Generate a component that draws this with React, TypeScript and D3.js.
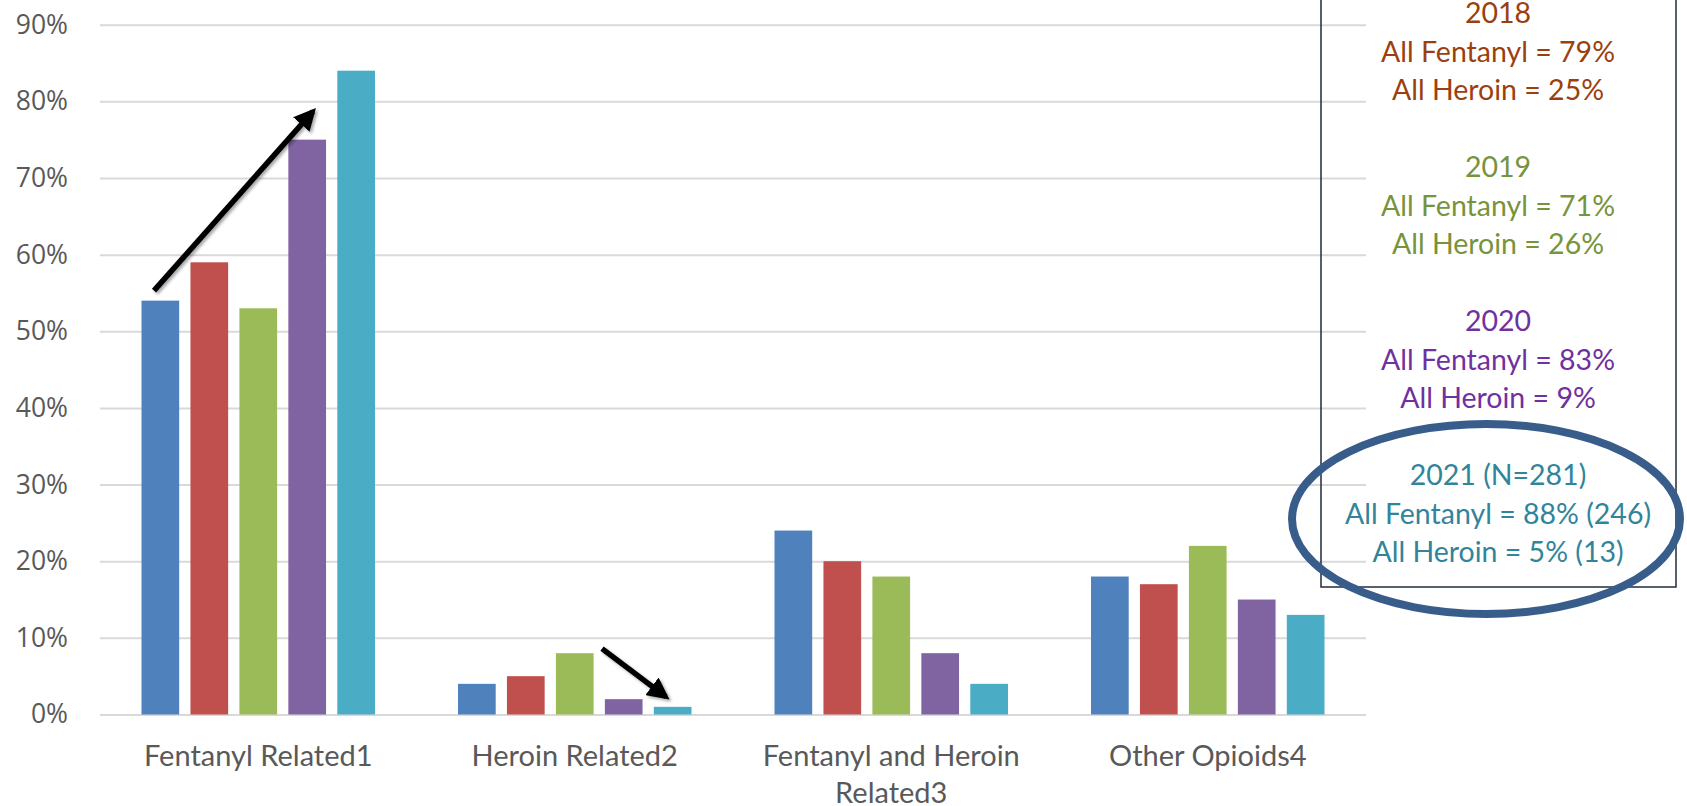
import React, { useRef, useEffect } from 'react';
import * as d3 from 'd3';

// chart data
const categories = ['Fentanyl Related1', 'Heroin Related2', 'Fentanyl and Heroin Related3', 'Other Opioids4'];
const seriesNames = ['s1', 's2', 's3', 's4', 's5'];
const seriesColors = ['#4F81BD', '#C0504D', '#9BBB59', '#8064A2', '#4BACC6'];
const values1 = [54, 4, 24, 18];
const values2 = [59, 5, 20, 17];
const values3 = [53, 8, 18, 22];
const values4 = [75, 2, 8, 15];
const values5 = [84, 1, 4, 13];
const seriesValues = [values1, values2, values3, values4, values5];
const yTicks = [0, 10, 20, 30, 40, 50, 60, 70, 80, 90];

// annotation box text
const noteColors = ['#9C3F0E', '#77933C', '#7030A0', '#31849B'];
const noteLines = [
  ['2018', 'All Fentanyl = 79%', 'All Heroin = 25%'],
  ['2019', 'All Fentanyl = 71%', 'All Heroin = 26%'],
  ['2020', 'All Fentanyl = 83%', 'All Heroin = 9%'],
  ['2021 (N=281)', 'All Fentanyl = 88% (246)', 'All Heroin = 5% (13)'],
];

const W = 1687;
const H = 806;

const App: React.FC = () => {
  const ref = useRef<SVGSVGElement | null>(null);

  useEffect(() => {
    if (!ref.current) return;
    const svg = d3.select(ref.current);
    svg.selectAll('*').remove();

    const margin = { left: 100, right: W - 1366, top: 24.7, bottom: H - 714.5 };
    const plotRight = W - margin.right;
    const plotBottom = H - margin.bottom;

    const x = d3.scaleBand<string>()
      .domain(categories)
      .range([margin.left, plotRight])
      .padding(0);

    const inner = d3.scaleBand<string>()
      .domain(seriesNames)
      .range([41.5, x.bandwidth() - 41.5])
      .paddingInner(0.23)
      .paddingOuter(0);

    const y = d3.scaleLinear()
      .domain([0, 90])
      .range([plotBottom, margin.top]);

    const textColor = '#595959';

    // drop shadow for the arrows
    const defs = svg.append('defs');
    const filter = defs.append('filter').attr('id', 'shadow')
      .attr('x', '-20%').attr('y', '-20%').attr('width', '140%').attr('height', '140%');
    filter.append('feDropShadow')
      .attr('dx', 2).attr('dy', 2).attr('stdDeviation', 1.5)
      .attr('flood-color', '#000').attr('flood-opacity', 0.35);
    defs.append('marker')
      .attr('id', 'arrowhead')
      .attr('viewBox', '0 0 10 10')
      .attr('refX', 8).attr('refY', 5)
      .attr('markerWidth', 4).attr('markerHeight', 4)
      .attr('orient', 'auto')
      .append('path')
      .attr('d', 'M0,0L10,5L0,10Z')
      .attr('fill', '#000');

    // gridlines + y labels
    const yAxis = svg.append('g')
      .attr('transform', `translate(${margin.left},0)`)
      .call(d3.axisLeft(y).tickValues(yTicks).tickFormat(d => `${d}%`).tickSize(-(plotRight - margin.left)).tickPadding(32));
    yAxis.select('.domain').remove();
    yAxis.selectAll('line')
      .attr('stroke', '#D9D9D9')
      .attr('stroke-width', 2);
    yAxis.selectAll('text')
      .attr('fill', textColor)
      .attr('font-family', '"Open Sans", "Noto Sans", sans-serif')
      .attr('font-size', 26.5);

    // bars
    const groups = svg.append('g')
      .selectAll('g')
      .data(categories)
      .join('g')
      .attr('transform', d => `translate(${x(d)},0)`);

    groups.selectAll('rect')
      .data((_, ci) => seriesValues.map((vals, si) => ({ key: seriesNames[si], value: vals[ci], color: seriesColors[si] })))
      .join('rect')
      .attr('x', d => inner(d.key)!)
      .attr('width', inner.bandwidth())
      .attr('y', d => y(d.value))
      .attr('height', d => plotBottom - y(d.value))
      .attr('fill', d => d.color);

    // category labels
    const xAxis = svg.append('g')
      .attr('transform', `translate(0,${plotBottom})`)
      .call(d3.axisBottom(x).tickSize(0).tickFormat(() => ''));
    xAxis.select('.domain').remove();
    xAxis.selectAll('.tick text').remove();
    xAxis.selectAll('.tick')
      .append('text')
      .attr('fill', textColor)
      .attr('font-family', 'Lato, "Open Sans", sans-serif')
      .attr('font-size', 29)
      .attr('text-anchor', 'middle')
      .each(function (d) {
        const label = d as string;
        const lines = label === 'Fentanyl and Heroin Related3' ? ['Fentanyl and Heroin', 'Related3'] : [label];
        const t = d3.select(this);
        lines.forEach((ln, i) => {
          t.append('tspan').attr('x', 0).attr('y', 51.5 + i * 37).text(ln);
        });
      });

    // arrows
    const arrowLine = d3.line();
    const arrowUp: [number, number][] = [[x(categories[0])! + 54, y(55.3)], [x(categories[0])! + 213, y(78.7)]];
    const arrowDown: [number, number][] = [[x(categories[1])! + 185.5, y(8.6)], [x(categories[1])! + 249.5, y(2.3)]];
    [arrowUp, arrowDown].forEach(pts => {
      svg.append('path')
        .attr('d', arrowLine(pts))
        .attr('stroke', '#000')
        .attr('stroke-width', 5.5)
        .attr('fill', 'none')
        .attr('marker-end', 'url(#arrowhead)')
        .attr('filter', 'url(#shadow)');
    });

    // annotation box
    svg.append('rect')
      .attr('x', 1321)
      .attr('y', -10)
      .attr('width', 1676 - 1321)
      .attr('height', 587 + 10)
      .attr('fill', 'none')
      .attr('stroke', '#1F2D3D')
      .attr('stroke-width', 1.5);

    const note = svg.append('g')
      .attr('font-family', 'Lato, "Open Sans", sans-serif')
      .attr('font-size', 28.5)
      .attr('text-anchor', 'middle');
    noteLines.forEach((block, bi) => {
      block.forEach((ln, li) => {
        note.append('text')
          .attr('x', 1498)
          .attr('y', 23 + bi * 154 + li * 38.5)
          .attr('fill', noteColors[bi])
          .text(ln);
      });
    });

    // ellipse highlighting 2021
    svg.append('ellipse')
      .attr('cx', 1486)
      .attr('cy', 519)
      .attr('rx', 194)
      .attr('ry', 95)
      .attr('fill', 'none')
      .attr('stroke', '#385D8A')
      .attr('stroke-width', 8);
  }, []);

  return (
    <svg
      ref={ref}
      width={W}
      height={H}
      style={{ position: 'absolute', left: 0, top: 0, background: '#fff' }}
    />
  );
};

export default App;
